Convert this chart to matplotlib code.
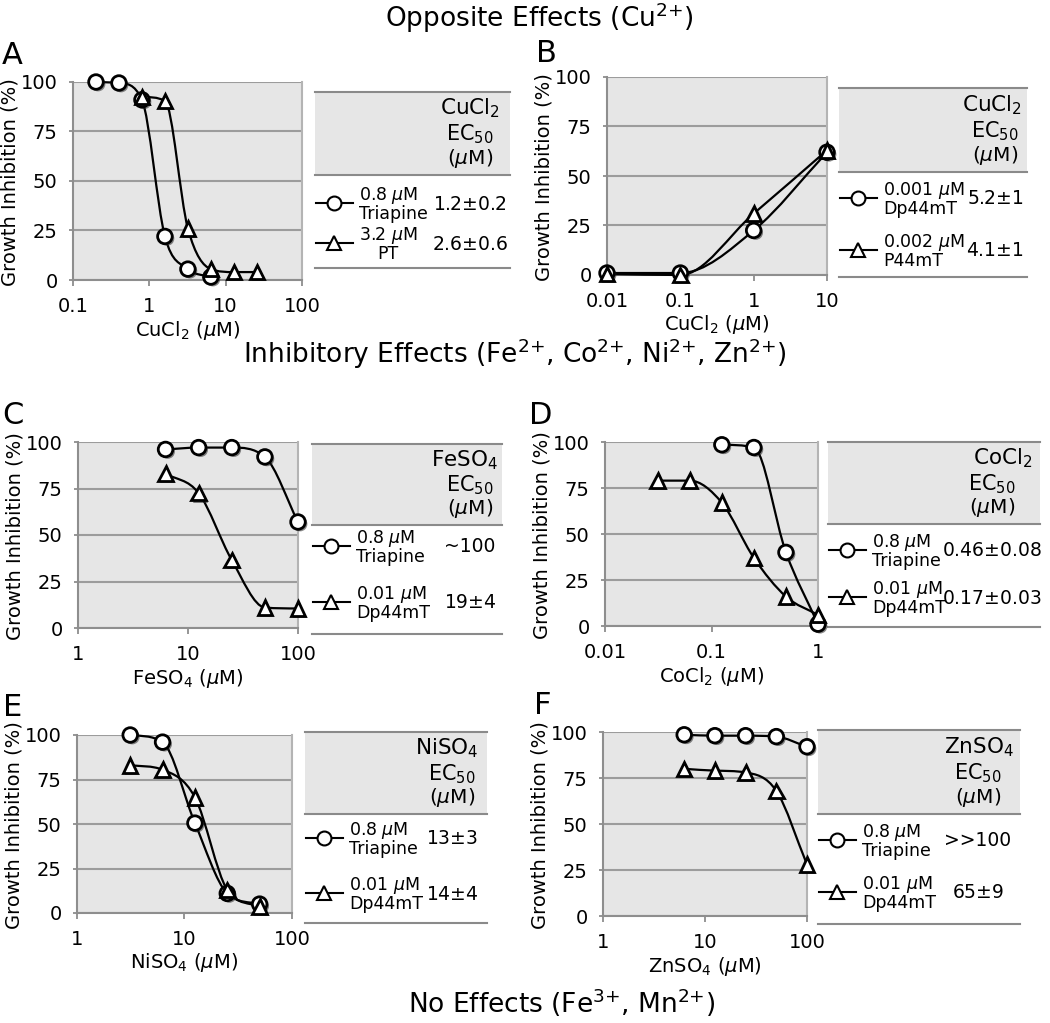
import numpy as np
import matplotlib
matplotlib.use('Agg')
import matplotlib.pyplot as plt
from matplotlib.path import Path
from matplotlib.patches import PathPatch, Rectangle
from matplotlib.lines import Line2D
import matplotlib.patheffects as pe
from matplotlib.ticker import FixedLocator, FixedFormatter, NullLocator

plt.rcParams['font.family'] = ['DejaVu Sans']
plt.rcParams['mathtext.fontset'] = 'dejavusans'

# ---------------- data ----------------
A_circ_x = [0.2, 0.4, 0.8, 1.6, 3.2, 6.4]
A_circ_y = [100, 99.5, 91, 22, 5.5, 1.5]
A_tri_x = [0.8, 1.6, 3.2, 6.4, 12.8, 25.6]
A_tri_y = [92.5, 90.5, 26, 5.5, 4, 4]

B_circ_x = [0.01, 0.1, 1, 10]
B_circ_y = [1, 1, 22.5, 62]
B_tri_x = [0.01, 0.1, 1, 10]
B_tri_y = [0.5, 0, 31, 63]

C_circ_x = [6.25, 12.5, 25, 50, 100]
C_circ_y = [96, 97, 97, 92, 57]
C_tri_x = [6.25, 12.5, 25, 50, 100]
C_tri_y = [83, 72.5, 36.5, 11, 10.5]

D_circ_x = [0.125, 0.25, 0.5, 1]
D_circ_y = [98.5, 97, 40, 1]
D_tri_x = [0.03125, 0.0625, 0.125, 0.25, 0.5, 1]
D_tri_y = [79, 79, 67, 37, 16, 6]

E_circ_x = [3.125, 6.25, 12.5, 25, 50]
E_circ_y = [100, 96, 50.5, 11, 5]
E_tri_x = [3.125, 6.25, 12.5, 25, 50]
E_tri_y = [83, 80.5, 65, 13, 3.5]

F_circ_x = [6.25, 12.5, 25, 50, 100]
F_circ_y = [98.5, 98, 98, 97.5, 92]
F_tri_x = [6.25, 12.5, 25, 50, 100]
F_tri_y = [80, 79, 78, 68, 28]

y_ticks = [0, 25, 50, 75, 100]
y_ticklabels = ['0', '25', '50', '75', '100']

A_xticks = [0.1, 1, 10, 100]; A_xticklabels = ['0.1', '1', '10', '100']
B_xticks = [0.01, 0.1, 1, 10]; B_xticklabels = ['0.01', '0.1', '1', '10']
C_xticks = [1, 10, 100]; C_xticklabels = ['1', '10', '100']
D_xticks = [0.01, 0.1, 1]; D_xticklabels = ['0.01', '0.1', '1']
E_xticks = [1, 10, 100]; E_xticklabels = ['1', '10', '100']
F_xticks = [1, 10, 100]; F_xticklabels = ['1', '10', '100']

A_metal = r'CuCl$_2$'; B_metal = r'CuCl$_2$'; C_metal = r'FeSO$_4$'
D_metal = r'CoCl$_2$'; E_metal = r'NiSO$_4$'; F_metal = r'ZnSO$_4$'

A_labels = ['0.8 $\\mu$M\nTriapine', '3.2 $\\mu$M\nPT']
B_labels = ['0.001 $\\mu$M\nDp44mT', '0.002 $\\mu$M\nP44mT']
C_labels = ['0.8 $\\mu$M\nTriapine', '0.01 $\\mu$M\nDp44mT']
D_labels = ['0.8 $\\mu$M\nTriapine', '0.01 $\\mu$M\nDp44mT']
E_labels = ['0.8 $\\mu$M\nTriapine', '0.01 $\\mu$M\nDp44mT']
F_labels = ['0.8 $\\mu$M\nTriapine', '0.01 $\\mu$M\nDp44mT']

A_values = ['1.2$\\pm$0.2', '2.6$\\pm$0.6']
B_values = ['5.2$\\pm$1', '4.1$\\pm$1']
C_values = ['~100', '19$\\pm$4']
D_values = ['0.46$\\pm$0.08', '0.17$\\pm$0.03']
E_values = ['13$\\pm$3', '14$\\pm$4']
F_values = ['>>100', '65$\\pm$9']

titles = ['Opposite Effects (Cu$^{2{+}}$)',
          'Inhibitory Effects (Fe$^{2{+}}$, Co$^{2{+}}$, Ni$^{2{+}}$, Zn$^{2{+}}$)',
          'No Effects (Fe$^{3{+}}$, Mn$^{2{+}}$)']

# ---------------- layout (pixels) ----------------
W, H = 1050, 1023
panels = [
    dict(letter='A', lp=(12, 55), box=(73, 82, 302, 280), xlim=(0.1, 100),
         xt=A_xticks, xtl=A_xticklabels, xlabel=r'CuCl$_2$ ($\mu$M)',
         cx=A_circ_x, cy=A_circ_y, tx=A_tri_x, ty=A_tri_y,
         tab=(315, 92, 175, 268, 510), hr=500, cc=470, rows=(203, 243),
         metal=A_metal, labels=A_labels, values=A_values, ma=['left', 'center']),
    dict(letter='B', lp=(546, 53), box=(607, 77, 827, 275), xlim=(0.01, 10),
         xt=B_xticks, xtl=B_xticklabels, xlabel=r'CuCl$_2$ ($\mu$M)',
         cx=B_circ_x, cy=B_circ_y, tx=B_tri_x, ty=B_tri_y,
         tab=(839, 88, 172, 277, 1027), hr=1022, cc=995, rows=(198, 250),
         metal=B_metal, labels=B_labels, values=B_values, ma=['left', 'left']),
    dict(letter='C', lp=(13, 416), box=(78, 442, 298, 628), xlim=(1, 100),
         xt=C_xticks, xtl=C_xticklabels, xlabel=r'FeSO$_4$ ($\mu$M)',
         cx=C_circ_x, cy=C_circ_y, tx=C_tri_x, ty=C_tri_y,
         tab=(312, 444, 525, 634, 502), hr=498, cc=470, rows=(546, 602),
         metal=C_metal, labels=C_labels, values=C_values, ma=['left', 'left']),
    dict(letter='D', lp=(541, 416), box=(605, 442, 818, 626), xlim=(0.01, 1),
         xt=D_xticks, xtl=D_xticklabels, xlabel=r'CoCl$_2$ ($\mu$M)',
         cx=D_circ_x, cy=D_circ_y, tx=D_tri_x, ty=D_tri_y,
         tab=(828, 442, 524, 627, 1040), hr=1032, cc=992, rows=(550, 597),
         metal=D_metal, labels=D_labels, values=D_values, ma=['left', 'left']),
    dict(letter='E', lp=(13, 707), box=(77, 735, 292, 913), xlim=(1, 100),
         xt=E_xticks, xtl=E_xticklabels, xlabel=r'NiSO$_4$ ($\mu$M)',
         cx=E_circ_x, cy=E_circ_y, tx=E_tri_x, ty=E_tri_y,
         tab=(305, 732, 814, 923, 487), hr=478, cc=452, rows=(838, 893),
         metal=E_metal, labels=E_labels, values=E_values, ma=['left', 'left']),
    dict(letter='F', lp=(543, 705), box=(603, 732, 807, 916), xlim=(1, 100),
         xt=F_xticks, xtl=F_xticklabels, xlabel=r'ZnSO$_4$ ($\mu$M)',
         cx=F_circ_x, cy=F_circ_y, tx=F_tri_x, ty=F_tri_y,
         tab=(818, 730, 814, 924, 1020), hr=1014, cc=978, rows=(840, 892),
         metal=F_metal, labels=F_labels, values=F_values, ma=['left', 'left']),
]
title_pos = [(539, 18), (515, 354), (562, 1003)]

GRID = '#9c9c9c'
FACE = '#e6e6e6'
SPINE = '#8e8e8e'
TABLE_LINE = '#8a8a8a'


def smooth_path(xs, ys):
    """Monotone cubic (Fritsch-Carlson) curve through the points, in log-x space."""
    lx = np.log10(np.asarray(xs, float))
    y = np.asarray(ys, float)
    n = len(lx)
    h = np.diff(lx)
    d = np.diff(y) / h
    m = np.zeros(n)
    m[0], m[-1] = d[0], d[-1]
    for i in range(1, n - 1):
        m[i] = 0.0 if d[i - 1] * d[i] <= 0 else (d[i - 1] + d[i]) / 2
    for i in range(n - 1):
        if d[i] == 0:
            m[i] = m[i + 1] = 0.0
        else:
            a, b = m[i] / d[i], m[i + 1] / d[i]
            s = a * a + b * b
            if s > 9:
                t = 3 / np.sqrt(s)
                m[i], m[i + 1] = t * a * d[i], t * b * d[i]
    verts = [(10 ** lx[0], y[0])]
    codes = [Path.MOVETO]
    for i in range(n - 1):
        c1 = (lx[i] + h[i] / 3, y[i] + m[i] * h[i] / 3)
        c2 = (lx[i + 1] - h[i] / 3, y[i + 1] - m[i + 1] * h[i] / 3)
        verts += [(10 ** c1[0], c1[1]), (10 ** c2[0], c2[1]), (10 ** lx[i + 1], y[i + 1])]
        codes += [Path.CURVE4] * 3
    return Path(verts, codes)


shadow = [pe.SimplePatchShadow(offset=(1.5, -1.5), shadow_rgbFace='0.15', alpha=0.55), pe.Normal()]
MK = dict(ms=10.5, mfc='white', mec='black', mew=2.0, ls='none', clip_on=False, zorder=5)

fig = plt.figure(figsize=(W / 100, H / 100), dpi=100)
ov = fig.add_axes([0, 0, 1, 1])
ov.set_xlim(0, W)
ov.set_ylim(H, 0)
ov.axis('off')

for t, (tx, ty) in zip(titles, title_pos):
    ov.text(tx, ty, t, ha='center', va='center', fontsize=19)

for p in panels:
    x0, y0, x1, y1 = p['box']
    ax = fig.add_axes([x0 / W, 1 - y1 / H, (x1 - x0) / W, (y1 - y0) / H])
    ax.set_facecolor(FACE)
    ax.set_xscale('log')
    ax.set_xlim(*p['xlim'])
    ax.set_ylim(0, 100)
    ax.xaxis.set_major_locator(FixedLocator(p['xt']))
    ax.xaxis.set_major_formatter(FixedFormatter(p['xtl']))
    ax.xaxis.set_minor_locator(NullLocator())
    ax.yaxis.set_major_locator(FixedLocator(y_ticks))
    ax.yaxis.set_major_formatter(FixedFormatter(y_ticklabels))
    ax.grid(axis='y', color=GRID, lw=1.5)
    ax.set_axisbelow(True)
    for s in ['left', 'bottom']:
        ax.spines[s].set_color(SPINE)
        ax.spines[s].set_linewidth(1.5)
    ax.spines['right'].set_color('#b4b4b4')
    ax.spines['right'].set_linewidth(1.5)
    ax.spines['top'].set_visible(False)
    ax.tick_params(axis='x', length=4, width=1.3, color=SPINE, pad=8.5, labelsize=14)
    ax.tick_params(axis='y', length=3, width=1.3, color=SPINE, pad=8, labelsize=14)

    for xs, ys, m in [(p['cx'], p['cy'], 'o'), (p['tx'], p['ty'], '^')]:
        ax.add_patch(PathPatch(smooth_path(xs, ys), fill=False, ec='black', lw=1.6,
                               clip_on=False, zorder=4))
        ax.plot(xs, ys, marker=m, path_effects=shadow, **MK)

    # labels
    ov.text((x0 + x1) / 2, y1 + 50, p['xlabel'], ha='center', va='center', fontsize=14)
    ov.text(x0 - 63, (y0 + y1) / 2 + 1, 'Growth Inhibition (%)', rotation=90,
            ha='center', va='center', fontsize=14)
    ov.text(p['lp'][0], p['lp'][1], p['letter'], ha='center', va='center', fontsize=22)

    # table
    tx0, ttop, tmid, tbot, tx1 = p['tab']
    ov.add_patch(Rectangle((tx0, ttop), tx1 - tx0, tmid - ttop, fc=FACE, ec='none', zorder=0))
    for yy in (ttop, tmid, tbot):
        ov.add_line(Line2D([tx0, tx1], [yy, yy], color=TABLE_LINE, lw=1.5))
    hh = tmid - ttop
    ov.text(p['hr'], ttop + 0.2 * hh, p['metal'], ha='right', va='center', fontsize=15.5)
    ov.text(p['cc'], ttop + 0.51 * hh, r'EC$_{50}$', ha='center', va='center', fontsize=15)
    ov.text(p['cc'], ttop + 0.8 * hh, r'($\mu$M)', ha='center', va='center', fontsize=14.5)
    for ry, m, lab, val, ma in zip(p['rows'], ['o', '^'], p['labels'], p['values'], p['ma']):
        ov.add_line(Line2D([tx0 + 1, tx0 + 38], [ry, ry], color='black', lw=1.5))
        ov.add_line(Line2D([tx0 + 19], [ry], marker=m, ms=10, mfc='white', mec='black',
                           mew=1.5, ls='none'))
        ov.text(tx0 + 44, ry + 1, lab, ha='left', va='center', fontsize=12.5,
                multialignment=ma, linespacing=0.95)
        ov.text(p['cc'], ry + 1, val, ha='center', va='center', fontsize=13.5)

fig.savefig('out.png', dpi=100)
